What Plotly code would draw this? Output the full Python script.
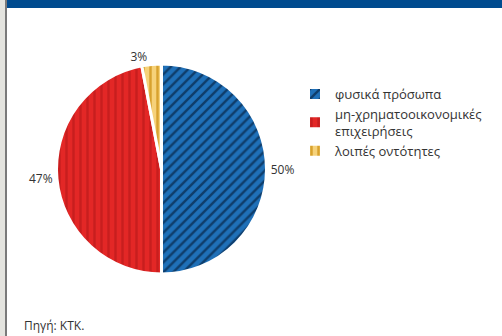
import plotly.graph_objects as go

# Holdings by sector (percent)
sectors = ["φυσικά πρόσωπα", "μη-χρηματοοικονομικές<br>επιχειρήσεις", "λοιπές οντότητες"]
shares = [50, 47, 3]
fill_colors = ["#1f70b8", "#e32726", "#f6d27a"]
stripe_colors = ["#0e3d6b", "#c81e1e", "#d8a22e"]
stripe_shapes = ["/", "|", "|"]
source_note = "Πηγή: KTK."

W, H = 502, 336

fig = go.Figure(go.Pie(
    labels=sectors,
    values=shares,
    sort=False,
    direction="clockwise",
    rotation=0,
    textinfo="percent",
    textposition="outside",
    textfont=dict(family="Open Sans", size=12, color="#333333"),
    marker=dict(
        colors=fill_colors,
        line=dict(color="white", width=3),
        pattern=dict(
            shape=stripe_shapes,
            fgcolor=stripe_colors,
            bgcolor=fill_colors,
            size=7,
            solidity=0.35,
            fillmode="replace",
        ),
    ),
    domain=dict(x=[56 / W, 267 / W], y=[(H - 274) / H, (H - 64) / H]),
    hoverinfo="skip",
))

fig.update_layout(
    width=W, height=H,
    margin=dict(l=0, r=0, t=0, b=0),
    paper_bgcolor="white",
    plot_bgcolor="white",
    font=dict(family="Open Sans", size=13, color="#333333"),
    legend=dict(
        x=295 / W, y=(H - 79) / H, xanchor="left", yanchor="top",
        font=dict(family="Open Sans", size=13, color="#333333"),
        bgcolor="rgba(0,0,0,0)",
        itemsizing="constant",
    ),
    shapes=[
        # grey strip on the left edge
        dict(type="rect", xref="paper", yref="paper", x0=0, x1=5 / W, y0=0, y1=1,
             fillcolor="#e4e4df", line_width=0, layer="below"),
        dict(type="rect", xref="paper", yref="paper", x0=5 / W, x1=7 / W, y0=0, y1=1,
             fillcolor="#7a7a7a", line_width=0, layer="below"),
        # blue header band
        dict(type="rect", xref="paper", yref="paper", x0=7 / W, x1=1, y0=(H - 8) / H, y1=1,
             fillcolor="#004b8f", line_width=0, layer="below"),
    ],
    annotations=[
        dict(text=source_note, xref="paper", yref="paper", x=22 / W, y=(H - 325) / H,
             xanchor="left", yanchor="middle", showarrow=False,
             font=dict(family="Open Sans", size=12, color="#333333")),
    ],
)

fig.write_html("out.html")
